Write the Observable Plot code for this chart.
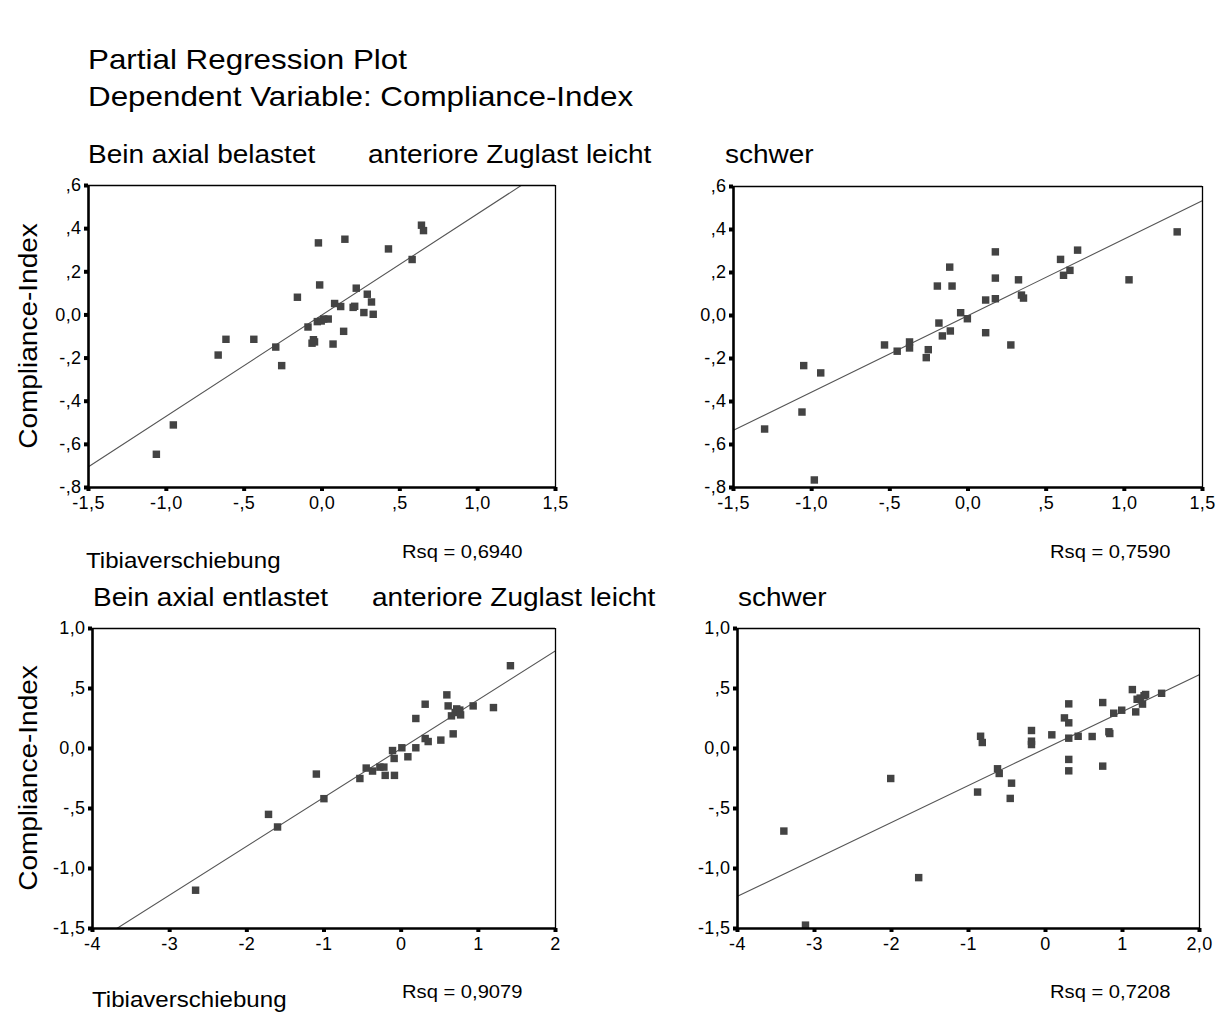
<!DOCTYPE html>
<html><head><meta charset="utf-8">
<script src="https://cdn.jsdelivr.net/npm/d3@7"></script>
<script src="https://cdn.jsdelivr.net/npm/@observablehq/plot@0.6"></script>
<style>
body{margin:0;background:#fff;}
#page{position:relative;width:1225px;height:1012px;overflow:hidden;font-family:Arial,"Liberation Sans",sans-serif;color:#000;background:#fff;}
.t{position:absolute;white-space:nowrap;line-height:1;transform-origin:0 0;}
.p{position:absolute;}
</style></head><body><div id="page"></div>
<script>
// ---------- data ----------
const titleText = "Partial Regression Plot";
const subtitleText = "Dependent Variable: Compliance-Index";
const rowLabels = [["Bein axial belastet", "anteriore Zuglast leicht", "schwer"],
                   ["Bein axial entlastet", "anteriore Zuglast leicht", "schwer"]];
const yLabel = "Compliance-Index";
const xLabel = "Tibiaverschiebung";
const rsqTexts = ["Rsq = 0,6940", "Rsq = 0,7590", "Rsq = 0,9079", "Rsq = 0,7208"];

// panel 1: belastet, leicht
const p1X = [-1.064,-0.955,-0.667,-0.617,-0.438,-0.297,-0.259,-0.158,-0.090,-0.064,-0.055,-0.048,-0.030,-0.023,-0.015,-0.005,0.011,0.040,0.071,0.081,0.120,0.139,0.147,0.200,0.210,0.220,0.269,0.291,0.318,0.329,0.427,0.579,0.639,0.652];
const p1Y = [-0.646,-0.510,-0.186,-0.113,-0.113,-0.149,-0.235,0.082,-0.056,-0.131,-0.115,-0.125,-0.031,0.334,0.139,-0.028,-0.019,-0.019,-0.135,0.053,0.039,-0.076,0.351,0.035,0.040,0.124,0.011,0.096,0.060,0.003,0.306,0.257,0.416,0.391];
// panel 2: belastet, schwer
const p2X = [-1.301,-1.051,-1.062,-0.983,-0.942,-0.534,-0.453,-0.374,-0.374,-0.267,-0.254,-0.196,-0.186,-0.164,-0.117,-0.113,-0.102,-0.047,-0.004,0.113,0.113,0.175,0.175,0.175,0.274,0.323,0.342,0.355,0.592,0.611,0.652,0.701,1.030,1.338];
const p2Y = [-0.528,-0.233,-0.449,-0.765,-0.267,-0.137,-0.166,-0.123,-0.151,-0.196,-0.159,0.137,-0.035,-0.095,0.225,-0.072,0.137,0.013,-0.015,0.072,-0.080,0.296,0.174,0.078,-0.137,0.166,0.095,0.081,0.261,0.187,0.210,0.304,0.166,0.389];
// panel 3: entlastet, leicht
const p3X = [-2.664,-1.719,-1.602,-1.099,-1.001,-0.535,-0.453,-0.371,-0.276,-0.224,-0.207,-0.112,-0.091,-0.087,0.009,0.087,0.190,0.190,0.311,0.311,0.350,0.514,0.592,0.609,0.652,0.674,0.700,0.720,0.760,0.770,0.933,1.196,1.416];
const p3Y = [-1.181,-0.549,-0.654,-0.213,-0.418,-0.250,-0.163,-0.188,-0.155,-0.155,-0.224,-0.017,-0.083,-0.224,0.006,-0.069,0.250,0.006,0.369,0.083,0.058,0.070,0.447,0.355,0.272,0.122,0.300,0.330,0.320,0.280,0.355,0.341,0.690];
// panel 4: entlastet, schwer
const p4X = [-3.398,-3.117,-2.010,-1.647,-0.882,-0.843,-0.821,-0.623,-0.601,-0.458,-0.441,-0.182,-0.182,-0.182,0.082,0.246,0.302,0.302,0.302,0.302,0.302,0.424,0.606,0.743,0.743,0.823,0.835,0.886,0.990,1.128,1.172,1.190,1.230,1.280,1.300,1.260,1.508];
const p4Y = [-0.688,-1.472,-0.250,-1.076,-0.363,0.102,0.050,-0.169,-0.208,-0.416,-0.289,0.150,0.061,0.033,0.114,0.255,0.372,0.214,0.086,-0.091,-0.186,0.102,0.100,0.383,-0.147,0.139,0.125,0.294,0.319,0.491,0.305,0.410,0.420,0.440,0.450,0.370,0.460];

// fitted lines (slope, intercept)
const fitSlopes = [0.469, 0.356, 0.407, 0.308];
const fitIntercepts = [0.0, 0.0, 0.0, 0.0];

// axes
const xDomTop = [-1.5, 1.5], yDomTop = [-0.8, 0.6];
const xDomBot = [-4, 2], yDomBot = [-1.5, 1.0];
const xTicksTop = [-1.5, -1.0, -0.5, 0.0, 0.5, 1.0, 1.5];
const xTickLabelsTop = ["-1,5", "-1,0", "-,5", "0,0", ",5", "1,0", "1,5"];
const yTicksTop = [-0.8, -0.6, -0.4, -0.2, 0.0, 0.2, 0.4, 0.6];
const yTickLabelsTop = ["-,8", "-,6", "-,4", "-,2", "0,0", ",2", ",4", ",6"];
const xTicksBot = [-4, -3, -2, -1, 0, 1, 2];
const xTickLabelsBot3 = ["-4", "-3", "-2", "-1", "0", "1", "2"];
const xTickLabelsBot4 = ["-4", "-3", "-2", "-1", "0", "1", "2,0"];
const yTicksBot = [-1.5, -1.0, -0.5, 0.0, 0.5, 1.0];
const yTickLabelsBot = ["-1,5", "-1,0", "-,5", "0,0", ",5", "1,0"];

// ---------- layout ----------
const FONT = 'Arial, "Liberation Sans", sans-serif';
const STRETCH = 1.12; // the reference text is horizontally wide
const page = document.getElementById("page");

function text(str, x, baseline, size) {
  const d = document.createElement("div");
  d.className = "t";
  d.textContent = str;
  d.style.fontSize = size + "px";
  d.style.left = x + "px";
  d.style.top = (baseline - 0.8465 * size) + "px";
  d.style.transform = `scaleX(${STRETCH})`;
  page.appendChild(d);
  return d;
}
function vtext(str, cx, cy, size) {
  const d = document.createElement("div");
  d.className = "t";
  d.textContent = str;
  d.style.fontSize = size + "px";
  d.style.left = cx + "px";
  d.style.top = cy + "px";
  d.style.transformOrigin = "50% 50%";
  d.style.transform = `translate(-50%,-50%) rotate(-90deg) scaleX(${STRETCH})`;
  page.appendChild(d);
}

function panel(xs, ys, xDom, yDom, xTicks, xLabels, yTicks, yLabels, slope, intercept, frame) {
  const [l, t, r, b] = frame;
  const mL = 80, mT = 12, mR = 40, mB = 40;
  const width = r - l + mL + mR, height = b - t + mT + mB;
  const pts = xs.map((x, i) => ({x, y: ys[i]}));
  const fit = xDom.map(x => ({x, y: intercept + slope * x}));
  const xMap = new Map(xTicks.map((v, i) => [v, xLabels[i]]));
  const yMap = new Map(yTicks.map((v, i) => [v, yLabels[i]]));
  const chart = Plot.plot({
    width, height, marginLeft: mL, marginTop: mT, marginRight: mR, marginBottom: mB,
    style: {fontFamily: FONT, fontSize: "18px", background: "transparent", overflow: "visible", color: "#000", letterSpacing: "0.4px"},
    x: {domain: xDom},
    y: {domain: yDom},
    marks: [
      Plot.line(fit, {x: "x", y: "y", stroke: "#555", strokeWidth: 1.1, clip: true}),
      Plot.dot(pts, {x: "x", y: "y", symbol: "square", r: 4.2, fill: "#434343", stroke: "none"}),
      Plot.ruleY([yDom[1]], {stroke: "#000", strokeWidth: 1.3}),
      Plot.ruleX([xDom[1]], {stroke: "#000", strokeWidth: 1.3}),
      Plot.ruleX([xDom[0]], {stroke: "#000", strokeWidth: 2.6}),
      Plot.ruleY([yDom[0]], {stroke: "#000", strokeWidth: 2.6}),
      Plot.axisX({ticks: xTicks, tickFormat: d => xMap.get(d), tickSize: 4, strokeWidth: 4, tickPadding: 5, label: null, fontSize: 18}),
      Plot.axisY({ticks: yTicks, tickFormat: d => yMap.get(d), tickSize: 4, strokeWidth: 4, tickPadding: 3, label: null, fontSize: 18})
    ]
  });
  chart.classList.add("p");
  chart.style.left = (l - mL) + "px";
  chart.style.top = (t - mT) + "px";
  page.appendChild(chart);
}

panel(p1X, p1Y, xDomTop, yDomTop, xTicksTop, xTickLabelsTop, yTicksTop, yTickLabelsTop, fitSlopes[0], fitIntercepts[0], [88, 185, 555, 487]);
panel(p2X, p2Y, xDomTop, yDomTop, xTicksTop, xTickLabelsTop, yTicksTop, yTickLabelsTop, fitSlopes[1], fitIntercepts[1], [733, 186, 1202, 487]);
panel(p3X, p3Y, xDomBot, yDomBot, xTicksBot, xTickLabelsBot3, yTicksBot, yTickLabelsBot, fitSlopes[2], fitIntercepts[2], [92, 628, 555, 928]);
panel(p4X, p4Y, xDomBot, yDomBot, xTicksBot, xTickLabelsBot4, yTicksBot, yTickLabelsBot, fitSlopes[3], fitIntercepts[3], [737, 628, 1199, 928]);

// titles
text(titleText, 88, 70, 28);
text(subtitleText, 88, 107, 28);
// row labels
text(rowLabels[0][0], 88, 163, 25);
text(rowLabels[0][1], 368, 163, 25);
text(rowLabels[0][2], 725, 163, 25);
text(rowLabels[1][0], 93, 606, 25);
text(rowLabels[1][1], 372, 606, 25);
text(rowLabels[1][2], 738, 606, 25);
// y labels
vtext(yLabel, 28, 336, 25);
vtext(yLabel, 28, 778, 25);
// x labels
text(xLabel, 86, 569, 21.5);
text(xLabel, 92, 1008, 21.5);
// rsq
text(rsqTexts[0], 402, 558, 18);
text(rsqTexts[1], 1050, 558, 18);
text(rsqTexts[2], 402, 998, 18);
text(rsqTexts[3], 1050, 998, 18);
</script>
</body></html>
